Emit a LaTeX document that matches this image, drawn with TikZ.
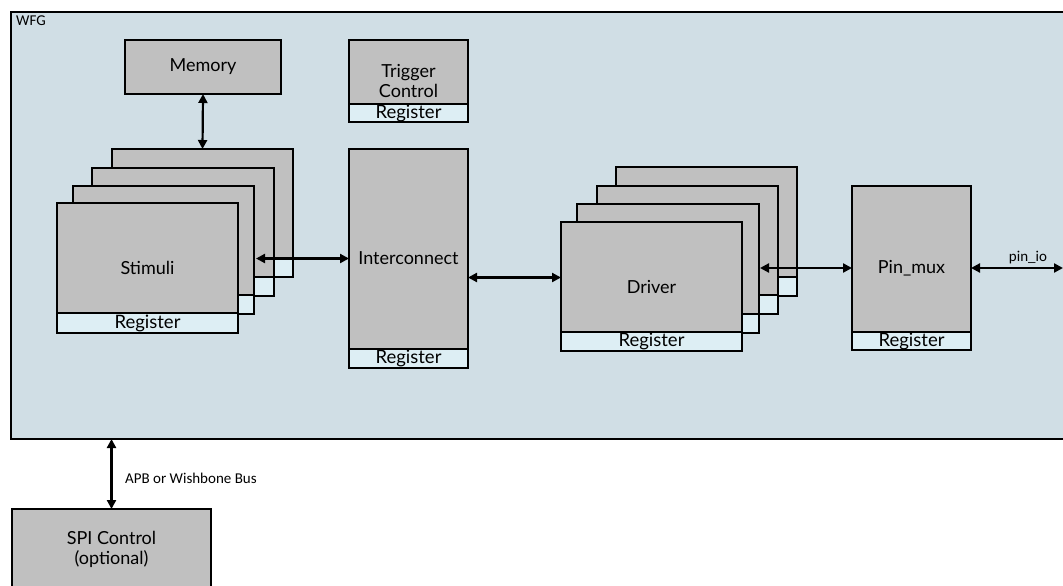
\documentclass[tikz,border=0pt]{standalone}
\usepackage{fontspec}
\setmainfont{Lato}
\newfontfamily\smallfont{Carlito}
\usetikzlibrary{arrows.meta}
\definecolor{wfgbg}{HTML}{D0DEE5}
\definecolor{blkgray}{HTML}{C0C0C0}
\definecolor{regcol}{HTML}{DDEEF4}
\tikzset{
  gbox/.style={draw=black,line width=1.9pt,fill=blkgray,inner sep=0pt,outer sep=0pt,align=center,font=\fontsize{18}{20}\selectfont},
  rbox/.style={draw=black,line width=1.9pt,fill=regcol,inner sep=0pt,outer sep=0pt,font=\fontsize{18.5}{18}\selectfont},
  conn/.style={line width=2.2pt,{Triangle[length=9pt,width=9pt]}-{Triangle[length=9pt,width=9pt]}},
  lbl/.style={font=\smallfont\fontsize{15}{17}\selectfont,inner sep=0pt}
}
\newcommand\blk[7]{%
  \node[gbox,minimum width={(#4-#2)*1pt},minimum height={(#5-#3)*1pt}] (#1) at ({(#2+#4)/2},{(#3+#5)/2}) {#7};
  \node[rbox,minimum width={(#4-#2)*1pt},minimum height={(#5-#6)*1pt}] (#1r) at ({(#2+#4)/2},{(#6+#5)/2}) {Register};}
\newcommand\gblk[6]{%
  \node[gbox,minimum width={(#4-#2)*1pt},minimum height={(#5-#3)*1pt}] (#1) at ({(#2+#4)/2},{(#3+#5)/2}) {#6};}
\begin{document}
\begin{tikzpicture}[x=1pt,y=-1pt]
\useasboundingbox[fill=white] (0,0) rectangle (1063,586);
% WFG frame
\node[draw=black,line width=1.9pt,fill=wfgbg,inner sep=0pt,outer sep=0pt,minimum width=1080pt,minimum height=427pt,anchor=north west] (wfg) at (11,12) {};
\node[lbl,anchor=north west] (wfglbl) at (16,16) {WFG};
% Memory / trigger
\gblk{mem}{125}{40}{281}{94}{Memory}
\blk{trig}{349}{40}{468}{122}{104}{Trigger\\Control}
% Stimuli stack
\blk{st4}{112}{149}{293}{277}{259}{}
\blk{st3}{92}{168}{274}{296}{277}{}
\blk{st2}{73}{186}{254}{314}{295}{}
\blk{st1}{57}{203}{238}{333}{313}{Stimuli}
% Interconnect
\blk{ic}{349}{149}{468}{368}{349}{Interconnect}
% Driver stack
\blk{dr4}{616}{167}{797}{296}{277}{}
\blk{dr3}{597}{186}{778}{314}{295}{}
\blk{dr2}{577}{204}{759}{333}{314}{}
\blk{dr1}{561}{222}{742}{351}{332}{Driver}
% Pin mux
\blk{pm}{852}{186}{971}{350}{332}{Pin\_mux}
% SPI
\gblk{spi}{12}{509}{211}{590}{SPI Control\\(optional)}
% connectors
\draw[conn] (mem.south) -- (st4.north);
\coordinate (stx) at ([xshift=2pt]st2.east);
\draw[conn] (stx |- ic.west) -- (ic.west);
\coordinate (dra) at ([yshift=9pt]dr1.west);
\draw[conn] (dra -| ic.east) -- (dra);
\coordinate (drb) at ([xshift=1pt]dr2.east);
\draw[conn] (drb |- pm.west) -- (pm.west);
\coordinate (pinio) at (1063,268);
\draw[conn] (pm.east |- pinio) -- (pinio);
\node[lbl,anchor=south] (pinlbl) at (1028,264) {pin\_io};
\draw[conn] (spi.north |- wfg.south) -- (spi.north);
\node[lbl,anchor=west] (buslbl) at (125,478) {APB or Wishbone Bus};
\end{tikzpicture}
\end{document}
